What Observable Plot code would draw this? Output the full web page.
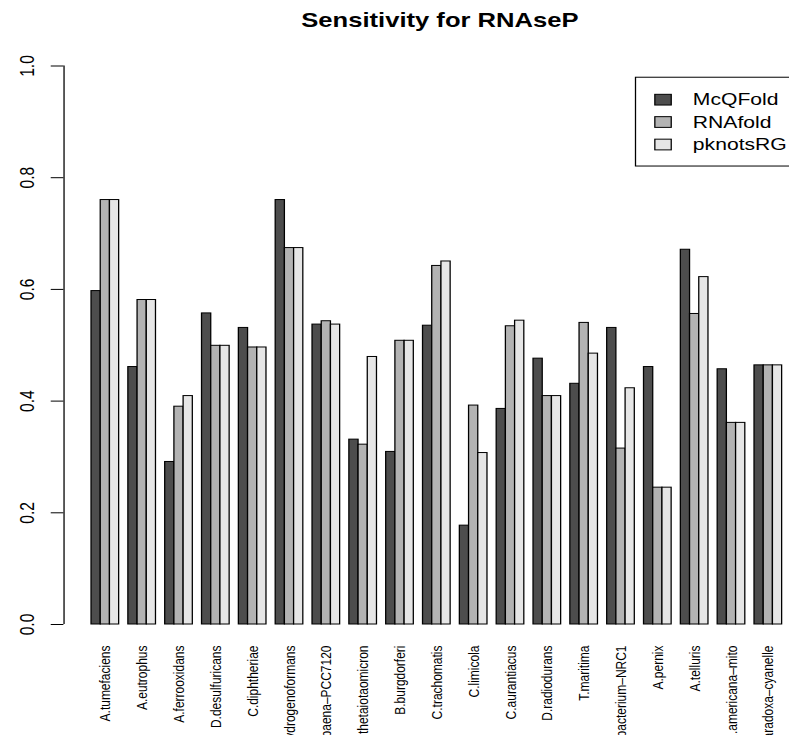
<!DOCTYPE html>
<html>
<head>
<meta charset="utf-8">
<script src="https://cdn.jsdelivr.net/npm/d3@7"></script>
<script src="https://cdn.jsdelivr.net/npm/@observablehq/plot@0.6"></script>
<style>
  html, body { margin: 0; padding: 0; background: #fff; overflow: hidden; }
</style>
</head>
<body>
<div id="chart"></div>
<script>
// Sensitivity of three RNA folding programs on RNase P sequences
const species = [
  "A.tumefaciens", "A.eutrophus", "A.ferrooxidans", "D.desulfuricans",
  "C.diphtheriae", "C.hydrogenoformans", "Anabaena–PCC7120", "B.thetaiotaomicron",
  "B.burgdorferi", "C.trachomatis", "C.limicola", "C.aurantiacus",
  "D.radiodurans", "T.maritima", "Halobacterium–NRC1", "A.pernix",
  "A.telluris", "R.americana–mito", "C.paradoxa–cyanelle"
];
const methods = ["McQFold", "RNAfold", "pknotsRG"];
const mcqfold  = [0.597, 0.461, 0.291, 0.557, 0.531, 0.760, 0.537, 0.331, 0.309, 0.535, 0.177, 0.386, 0.476, 0.431, 0.531, 0.461, 0.671, 0.457, 0.464];
const rnafold  = [0.760, 0.581, 0.390, 0.499, 0.496, 0.674, 0.543, 0.322, 0.508, 0.642, 0.392, 0.534, 0.409, 0.540, 0.315, 0.245, 0.556, 0.361, 0.464];
const pknotsrg = [0.760, 0.581, 0.409, 0.499, 0.496, 0.674, 0.537, 0.479, 0.508, 0.650, 0.307, 0.544, 0.409, 0.485, 0.423, 0.245, 0.622, 0.361, 0.464];
const yTicks = [0, 0.2, 0.4, 0.6, 0.8, 1.0];
const title = "Sensitivity for RNAseP";

const series = [mcqfold, rnafold, pknotsrg];
const fills = ["#4d4d4d", "#b3b3b3", "#e6e6e6"];

// Grouped-bar layout in bar-width units: one blank unit before each group of three
const rows = species.flatMap((s, i) =>
  methods.map((m, j) => ({species: s, method: m, value: series[j][i], x1: i * 4 + j + 1}))
);
const groupCenter = (d, i) => i * 4 + 2.5;

// Drawing geometry (internal units, later stretched horizontally)
const W = 616, H = 735, stretch = 789 / W;
const axisX = -2;                 // left edge of the plotting region in bar units
const unitPx = (W - 49.5) / 78.8; // pixels per bar unit
const tickLen = 9.9 / unitPx;

// Legend layout, in data coordinates
const legX = 60.13, legTop = 0.979, legBottom = 0.820;
const swX = 62.23, swW = 1.78, swH = 0.0192, txtX = 66.29;
const rowY = [0.9388, 0.8988, 0.8585];

const chart = Plot.plot({
  width: W,
  height: H,
  marginLeft: 49.5,
  marginRight: 0,
  marginTop: 65.5,
  marginBottom: 111,
  x: {domain: [axisX, 76.8], axis: null},
  y: {domain: [0, 1], axis: null},
  color: {domain: methods, range: fills},
  style: {fontFamily: "'Liberation Sans', Arial, sans-serif", background: "white", color: "black"},
  marks: [
    // bars
    Plot.rectY(rows, {
      x1: "x1", x2: d => d.x1 + 1, y: "value", fill: "method",
      stroke: "black", strokeWidth: 1
    }),
    // y axis
    Plot.ruleX([axisX], {y1: 0, y2: 1, stroke: "black"}),
    Plot.ruleY(yTicks, {y: d => d, x1: axisX - tickLen, x2: axisX, stroke: "black"}),
    Plot.text(yTicks, {
      y: d => d, text: d => d3.format(".1f")(d), frameAnchor: "left",
      dx: -28.7, rotate: -90, textAnchor: "middle", lineAnchor: "middle",
      fontSize: 15.6, fill: "black"
    }),
    // species names under each group
    Plot.text(species, {
      x: groupCenter, text: d => d, frameAnchor: "bottom", dy: 21,
      rotate: -90, textAnchor: "end", lineAnchor: "middle",
      fontSize: 12, fill: "black"
    }),
    // title
    Plot.text([title], {
      x: 38.5, text: d => d, frameAnchor: "top", dx: 2.3, dy: -45.8,
      lineAnchor: "middle", fontSize: 20, fontWeight: "bold", fill: "black"
    }),
    // legend
    Plot.rect([0], {x1: legX, x2: 79, y1: legBottom, y2: legTop, fill: "white", stroke: "black"}),
    Plot.rect(methods, {
      x1: swX, x2: swX + swW,
      y1: (d, i) => rowY[i] - swH / 2, y2: (d, i) => rowY[i] + swH / 2,
      fill: d => d, stroke: "black"
    }),
    Plot.text(methods, {
      x: txtX, y: (d, i) => rowY[i], text: d => d,
      textAnchor: "start", lineAnchor: "middle", fontSize: 16.5, fill: "black"
    })
  ]
});

// Widen the drawing horizontally to the page width
chart.setAttribute("width", 789);
chart.setAttribute("height", H);
chart.setAttribute("preserveAspectRatio", "none");
chart.style.width = "789px";
chart.style.height = H + "px";
chart.style.maxWidth = "none";
document.getElementById("chart").appendChild(chart);
</script>
</body>
</html>
